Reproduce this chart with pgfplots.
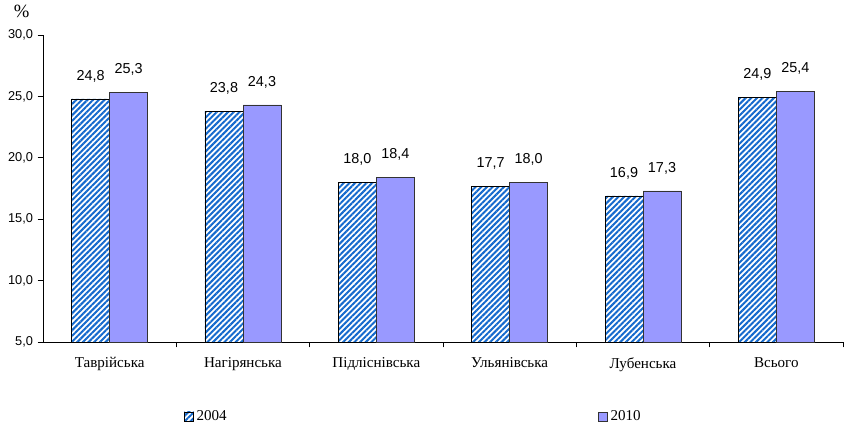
\documentclass[border=0pt]{standalone}
\usepackage{pgfplots}
\pgfplotsset{compat=1.18}
\usepackage{fontspec}
\setmainfont{Liberation Serif}
\newfontfamily\labelfont{Liberation Sans}
\usetikzlibrary{patterns.meta}
\definecolor{hatchblue}{RGB}{20,105,205}
\definecolor{lavender}{RGB}{153,153,255}

\begin{document}
\begin{tikzpicture}
% fixed page frame around the plot area
\useasboundingbox (-32.25pt,-62.25pt) rectangle (600.75pt,256.5pt);
\begin{axis}[
  at={(0,0)}, anchor=south west,
  scale only axis,
  width=600pt, height=230.25pt,
  ybar=0pt, bar width=28.5pt,
  xmin=-0.5, xmax=5.5,
  ymin=5, ymax=30,
  ytick={5,10,15,20,25,30},
  xtick={0,1,2,3,4,5},
  xticklabels={Таврійська,Нагірянська,Підліснівська,Ульянівська,Лубенська,Всього},
  minor xtick={0.5,1.5,2.5,3.5,4.5,5.5},
  axis lines=left,
  axis line style={-, black, line width=0.6pt},
  tick align=outside,
  major tick length=4pt,
  minor tick length=4pt,
  every tick/.style={black, line width=0.6pt},
  major x tick style={draw=none},
  tick pos=left,
  xticklabel style={font=\fontsize{11.3pt}{13pt}\selectfont, yshift=-4pt},
  yticklabel style={font=\labelfont\fontsize{9.6pt}{11pt}\selectfont},
  /pgf/number format/.cd, fixed, fixed zerofill, precision=1, use comma, assume math mode=true,
  /pgfplots/.cd,
  nodes near coords,
  every node near coord/.append style={font=\labelfont\fontsize{10.8pt}{13pt}\selectfont, black, anchor=south, inner sep=0pt, yshift=12.5pt},
  legend columns=2,
  legend style={draw=none, at={(278pt,-56pt)}, anchor=center,
    font=\fontsize{11.3pt}{13pt}\selectfont,
    /tikz/every even column/.append style={column sep=3pt}},
  legend image code/.code={\draw[#1] (0pt,-3.5pt) rectangle (7pt,3.5pt);},
  clip=false,
]
\addplot[draw=black, line width=0.5pt, fill=white,
  postaction={pattern={Lines[angle=45,distance=3pt,line width=1.5pt]}, pattern color=hatchblue}]
  coordinates {(0,24.8) (1,23.8) (2,18.0) (3,17.7) (4,16.9) (5,24.9)};
\addplot[draw=black!80, line width=0.5pt, fill=lavender]
  coordinates {(0,25.3) (1,24.3) (2,18.4) (3,18.0) (4,17.3) (5,25.4)};
\addlegendentry[text width=296pt]{2004}
\addlegendentry{2010}
\node[font=\fontsize{14pt}{16pt}\selectfont] at (rel axis cs:0,1) [xshift=-16pt, yshift=18pt] {\%};
\end{axis}
\end{tikzpicture}
\end{document}
